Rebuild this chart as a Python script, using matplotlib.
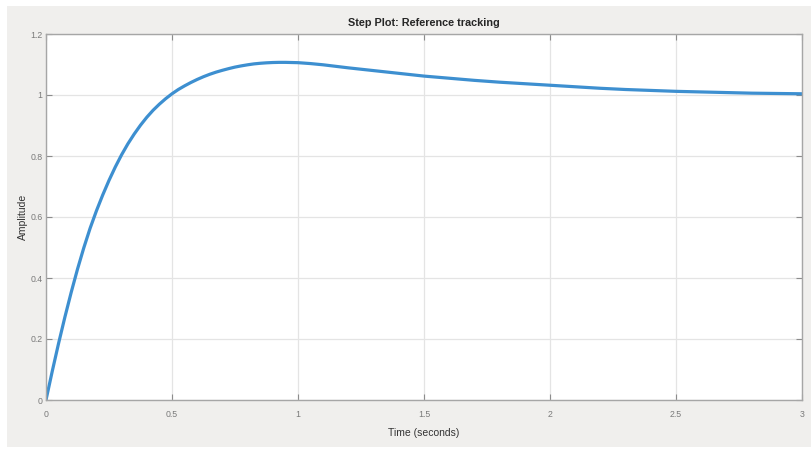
import matplotlib.pyplot as plt
from matplotlib.patches import Rectangle

# step response
time_s = [0.0, 0.025, 0.05, 0.075, 0.10, 0.125, 0.15, 0.175, 0.20, 0.225,
          0.25, 0.275, 0.30, 0.325, 0.35, 0.375, 0.40, 0.425, 0.45, 0.475,
          0.50, 0.525, 0.55, 0.575, 0.60, 0.625, 0.65, 0.675, 0.70, 0.725,
          0.75, 0.775, 0.80, 0.825, 0.85, 0.875, 0.90, 0.925, 0.95, 0.975,
          1.0, 1.05, 1.1, 1.15, 1.2, 1.3, 1.4, 1.5, 1.6, 1.7,
          1.8, 1.9, 2.0, 2.1, 2.2, 2.3, 2.4, 2.5, 2.6, 2.7,
          2.8, 2.9, 3.0]
amplitude = [0.0, 0.095, 0.186, 0.272, 0.353, 0.429, 0.499, 0.563, 0.620, 0.672,
             0.720, 0.764, 0.804, 0.840, 0.872, 0.901, 0.927, 0.950, 0.970, 0.988,
             1.004, 1.018, 1.030, 1.041, 1.051, 1.060, 1.068, 1.075, 1.081, 1.0865,
             1.0915, 1.0955, 1.099, 1.102, 1.104, 1.1055, 1.1065, 1.107, 1.107, 1.1065,
             1.106, 1.103, 1.099, 1.094, 1.089, 1.080, 1.071, 1.062, 1.055, 1.048,
             1.042, 1.037, 1.032, 1.027, 1.022, 1.018, 1.015, 1.012, 1.010, 1.008,
             1.006, 1.005, 1.004]

xticks = [0, 0.5, 1, 1.5, 2, 2.5, 3]
xtick_labels = ['0', '0.5', '1', '1.5', '2', '2.5', '3']
yticks = [0, 0.2, 0.4, 0.6, 0.8, 1.0, 1.2]
ytick_labels = ['0', '0.2', '0.4', '0.6', '0.8', '1', '1.2']

plt.rcParams['font.family'] = ['Liberation Sans', 'DejaVu Sans']

W, H = 811, 449
dpi = 100
fig = plt.figure(figsize=(W / dpi, H / dpi), dpi=dpi, facecolor='white')

# grey window background with a thin white margin
fig.patches.append(Rectangle((7 / W, 2 / H), 804 / W, 441 / H,
                             transform=fig.transFigure, facecolor='#f0efed',
                             edgecolor='none', zorder=-1))

ax = fig.add_axes([46 / W, 49 / H, 756 / W, 366 / H])
ax.set_facecolor('white')
ax.plot(time_s, amplitude, color='#3d8fd0', linewidth=2.3, solid_capstyle='round')

ax.set_xlim(0, 3)
ax.set_ylim(0, 1.2)
ax.set_xticks(xticks)
ax.set_xticklabels(xtick_labels)
ax.set_yticks(yticks)
ax.set_yticklabels(ytick_labels)

ax.grid(True, color='#e4e4e4', linewidth=0.9)
ax.set_axisbelow(True)
ax.tick_params(direction='in', length=4, width=0.8, color='#8c8c8c',
               labelsize=6.3, labelcolor='#7a7a7a', top=True, right=True)
ax.tick_params(axis='x', pad=7)
ax.tick_params(axis='y', pad=2.5)
for sp in ax.spines.values():
    sp.set_color('#a6a6a6')
    sp.set_linewidth(1.0)

ax.set_title('Step Plot: Reference tracking', fontsize=7.8, fontweight='bold',
             color='#262626', pad=6)
ax.set_xlabel('Time (seconds)', fontsize=7.5, color='#333333', labelpad=7)
ax.set_ylabel('Amplitude', fontsize=7.5, color='#333333', labelpad=2)

fig.savefig('out.png', dpi=dpi, facecolor=fig.get_facecolor())
plt.close(fig)
